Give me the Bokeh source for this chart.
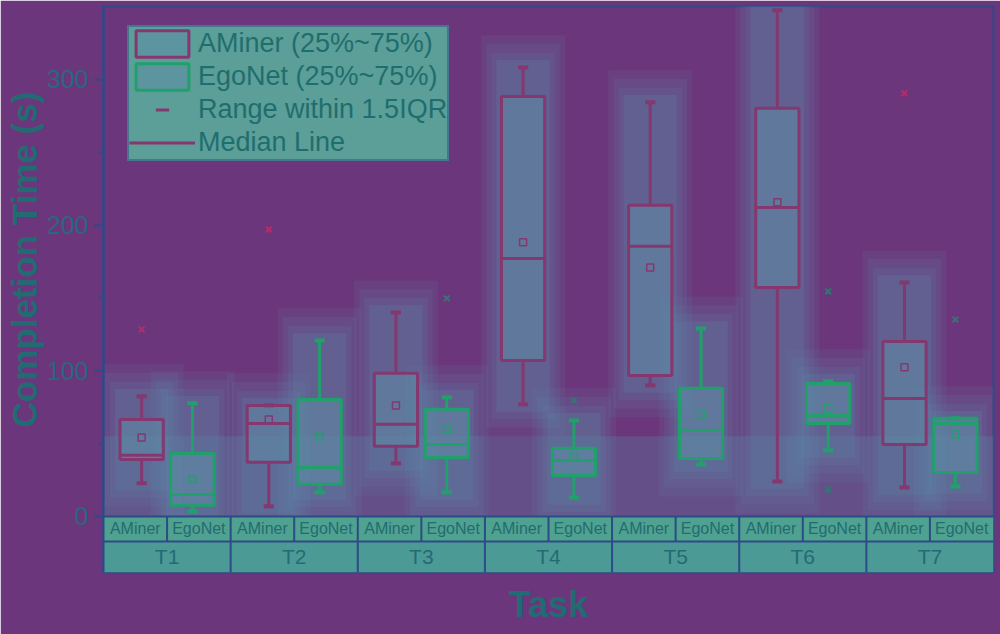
import math
from bokeh.plotting import figure
from bokeh.models import Range1d, FixedTicker, Legend, LegendItem, Title
from bokeh.core.properties import value
from bokeh.embed import file_html
from bokeh.resources import INLINE

# ---------------- data ----------------
tasks = ["T1", "T2", "T3", "T4", "T5", "T6", "T7"]
series = ["AMiner", "EgoNet"]

a_lo = [22.7, 6.9, 36.4, 76.9, 89.9, 24.0, 19.9]
a_q1 = [39.1, 37.1, 48.1, 107.1, 96.8, 157.2, 49.4]
a_med = [41.9, 63.8, 63.2, 177.1, 185.4, 212.1, 81.0]
a_q3 = [66.6, 76.2, 98.2, 288.3, 213.5, 280.1, 120.1]
a_hi = [82.4, 76.2, 140.0, 308.2, 284.2, 347.4, 160.6]
a_mean = [54.2, 66.6, 76.2, 188.1, 170.9, 215.6, 102.3]
a_out_task = ["T1", "T2", "T7"]
a_out_val = [128.4, 197.0, 290.4]

e_lo = [3.4, 16.5, 16.5, 13.0, 35.7, 45.3, 20.6]
e_q1 = [7.6, 22.0, 40.5, 28.1, 39.8, 63.8, 30.2]
e_med = [15.1, 33.6, 49.4, 38.4, 59.0, 69.3, 63.8]
e_q3 = [43.2, 80.3, 73.5, 46.7, 87.9, 91.3, 67.3]
e_hi = [77.6, 120.8, 81.7, 65.9, 129.0, 92.7, 67.3]
e_mean = [25.4, 54.9, 59.7, 41.2, 70.0, 74.1, 56.3]
e_out_task = ["T3", "T4", "T6", "T6", "T7"]
e_out_val = [149.7, 79.6, 154.4, 18.5, 135.2]

y_ticks = [0, 100, 200, 300]
y_minor = [50, 150, 250]

# ---------------- style ----------------
PURPLE = "#6b367c"
GLOW = "#5b8aa8"
BOXFILL = "#5d8ca6"
TABLE = "#4fa28f"
NAVY = "#2d4b85"
A_COL = "#84386f"
E_COL = "#22a06c"
A_OUT = "#b02f6a"
E_OUT = "#2e7a72"
TXT = "#246b74"
FONT = "Liberation Sans"

n = len(tasks)
idx = {t: i for i, t in enumerate(tasks)}
A_OFF, E_OFF, BW, CAP = 0.3, 0.7, 0.34, 0.04
xa = [i + A_OFF for i in range(n)]
xe = [i + E_OFF for i in range(n)]

Y0, Y1 = -38.5, 350
ROW = -17.2

p = figure(width=1000, height=634, x_range=Range1d(0, n), y_range=Range1d(Y0, Y1),
           output_backend="svg", toolbar_location=None,
           min_border_left=103, min_border_right=7, min_border_top=6, min_border_bottom=62)
p.border_fill_color = PURPLE
p.background_fill_color = PURPLE
p.outline_line_color = NAVY
p.outline_line_width = 2
p.grid.visible = False
p.xaxis.visible = False

ax = p.yaxis[0]
ax.ticker = FixedTicker(ticks=y_ticks, minor_ticks=y_minor)
ax.axis_line_color = NAVY
ax.axis_line_width = 2
ax.major_tick_line_color = NAVY
ax.minor_tick_line_color = NAVY
ax.major_tick_line_width = 2
ax.minor_tick_line_width = 2
ax.major_tick_out = 9
ax.major_tick_in = 0
ax.minor_tick_out = 5
ax.minor_tick_in = 0
ax.major_label_standoff = 6
ax.major_label_text_font = FONT
ax.major_label_text_font_size = "25px"
ax.major_label_text_color = "#2b6680"

# ---------------- heat-like glow behind the boxes ----------------
p.quad(left=0, right=n, bottom=0, top=55, fill_color=GLOW, fill_alpha=0.3, line_color=None)
for xs, lo, hi in ((xa, a_lo, a_hi), (xe, e_lo, e_hi)):
    cy = [(l + h) / 2 for l, h in zip(lo, hi)]
    for w, pad, al in ((0.66, 22, 0.12), (0.58, 16, 0.14), (0.5, 10, 0.16), (0.42, 5, 0.2)):
        hh = [h - l + 2 * pad for l, h in zip(lo, hi)]
        p.rect(x=xs, y=cy, width=w, height=hh, fill_color=GLOW, fill_alpha=al, line_color=None)

# ---------------- category table under the plot ----------------
p.quad(left=0, right=n, bottom=ROW, top=0, fill_color=TABLE, fill_alpha=1, line_color=None)
p.quad(left=0, right=n, bottom=Y0, top=ROW, fill_color="#4c9a96", fill_alpha=1, line_color=None)
p.segment(x0=[0, 0], x1=[n, n], y0=[0, ROW], y1=[0, ROW], line_color=NAVY, line_width=2)
p.segment(x0=list(range(1, n)), x1=list(range(1, n)), y0=[Y0] * (n - 1), y1=[0] * (n - 1),
          line_color=NAVY, line_width=2)
p.segment(x0=[i + 0.5 for i in range(n)], x1=[i + 0.5 for i in range(n)],
          y0=[ROW] * n, y1=[0] * n, line_color=NAVY, line_width=2)
p.text(x=[i + 0.25 for i in range(n)] + [i + 0.75 for i in range(n)],
       y=[ROW / 2] * (2 * n), text=[series[0]] * n + [series[1]] * n,
       text_font=value(FONT), text_font_size="16px", text_color=TXT,
       text_align="center", text_baseline="middle")
p.text(x=[i + 0.5 for i in range(n)], y=[(ROW + Y0) / 2] * n, text=tasks,
       text_font=value(FONT), text_font_size="21px", text_color=TXT,
       text_align="center", text_baseline="middle")

# ---------------- box plots ----------------
def draw(xs, lo, q1, med, q3, hi, mean, col):
    box = p.vbar(x=xs, bottom=q1, top=q3, width=BW, fill_color=BOXFILL, fill_alpha=0.55,
                 line_color=col, line_width=3)
    p.segment(x0=xs, x1=xs, y0=lo, y1=q1, line_color=col, line_width=3)
    p.segment(x0=xs, x1=xs, y0=q3, y1=hi, line_color=col, line_width=3)
    p.segment(x0=[x - CAP for x in xs], x1=[x + CAP for x in xs], y0=lo, y1=lo,
              line_color=col, line_width=4)
    p.segment(x0=[x - CAP for x in xs], x1=[x + CAP for x in xs], y0=hi, y1=hi,
              line_color=col, line_width=4)
    med_r = p.segment(x0=[x - BW / 2 for x in xs], x1=[x + BW / 2 for x in xs], y0=med, y1=med,
                      line_color=col, line_width=3)
    rng_r = p.scatter(x=xs, y=q1, marker="dash", angle=math.pi / 2, size=27,
                      line_color=col, line_width=3, visible=False)
    p.scatter(x=xs, y=mean, marker="square", size=7, fill_color=None, line_color=col, line_width=1.5)
    return box, med_r, rng_r

a_box, a_medr, a_rng = draw(xa, a_lo, a_q1, a_med, a_q3, a_hi, a_mean, A_COL)
e_box, e_medr, e_rng = draw(xe, e_lo, e_q1, e_med, e_q3, e_hi, e_mean, E_COL)

p.scatter(x=[idx[t] + A_OFF for t in a_out_task], y=a_out_val, marker="x", size=8,
          line_color=A_OUT, line_width=2)
p.scatter(x=[idx[t] + E_OFF for t in e_out_task], y=e_out_val, marker="x", size=8,
          line_color=E_OUT, line_width=2)

legend = Legend(items=[
    LegendItem(label="AMiner (25%~75%)", renderers=[a_box]),
    LegendItem(label="EgoNet (25%~75%)", renderers=[e_box]),
    LegendItem(label="Range within 1.5IQR", renderers=[a_rng]),
    LegendItem(label="Median Line", renderers=[a_medr]),
], location=(24, 411))
legend.glyph_width = 66
legend.glyph_height = 33
legend.spacing = 0
legend.padding = 0
legend.margin = 0
legend.label_standoff = 3
legend.label_text_font = FONT
legend.label_text_font_size = "27px"
legend.label_text_color = "#1f6e6e"
legend.background_fill_color = "#5c9e98"
legend.background_fill_alpha = 1
legend.border_line_color = NAVY
legend.border_line_width = 2
legend.inactive_fill_alpha = 0
p.add_layout(legend)

# axis titles
p.add_layout(Title(text="Completion Time (s)", align="left", offset=145, standoff=0,
                   text_font=FONT, text_font_size="35px", text_font_style="bold",
                   text_color="#236b73"), "left")
p.add_layout(Title(text="Task", align="center", offset=2, standoff=19,
                   text_font=FONT, text_font_size="36px", text_font_style="bold",
                   text_color="#236b73"), "below")

open("out.html", "w").write(file_html(p, INLINE))
